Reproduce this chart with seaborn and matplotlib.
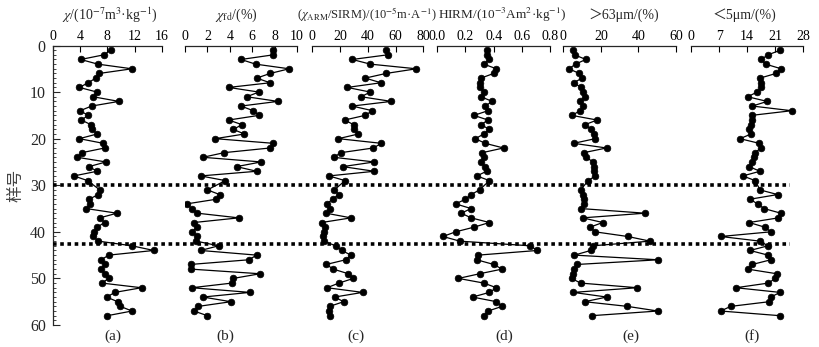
import matplotlib
matplotlib.use("Agg")
import matplotlib.pyplot as plt
import matplotlib.transforms as mtransforms
from matplotlib.lines import Line2D
from matplotlib.ticker import MultipleLocator
import seaborn as sns

# sample numbers (sample 30 not measured)
sample = list(range(1, 30)) + list(range(31, 59))

chi = [8.5, 7.5, 4.1, 6.6, 11.6, 6.8, 6.3, 5.2, 3.9, 6.5, 5.9, 9.7, 5.7, 4.0, 5.2,
       4.2, 5.6, 5.8, 6.5, 3.9, 7.4, 7.6, 4.3, 3.6, 7.8, 5.3, 6.5, 3.1, 5.1,
       6.9, 6.7, 5.3, 5.5, 4.9, 9.4, 6.9, 7.6, 6.5, 6.1, 5.9, 6.7,
       11.6, 14.8, 8.2, 7.1, 7.7, 7.0, 7.7, 8.2, 7.2, 13.0, 9.1, 7.9, 9.5, 9.9, 11.6, 8.0]

chi_fd = [7.9, 7.9, 5.0, 6.3, 9.3, 7.6, 6.4, 7.6, 3.9, 6.6, 5.5, 8.3, 5.0, 6.1, 6.6,
          3.9, 5.1, 4.3, 5.3, 2.7, 7.9, 7.6, 3.5, 1.6, 6.8, 4.6, 6.4, 1.4, 3.6,
          2.0, 3.1, 2.8, 0.15, 0.6, 1.1, 4.8, 0.8, 1.1, 0.6, 1.1, 1.0,
          3.0, 1.4, 6.4, 5.7, 0.5, 0.5, 6.7, 4.3, 4.2, 0.6, 5.8, 1.6, 4.1, 1.2, 0.8, 2.0]

arm_sirm = [52.9, 54.3, 28.8, 41.8, 75.0, 53.1, 38.2, 49.5, 25.2, 41.8, 35.1, 57.0, 28.8, 43.3, 38.0,
            23.3, 29.8, 30.0, 33.2, 18.8, 49.8, 44.0, 20.7, 15.4, 44.7, 21.9, 44.7, 12.0, 23.6,
            15.9, 19.0, 14.7, 10.3, 12.5, 9.9, 27.9, 6.7, 9.4, 8.7, 7.7, 8.4,
            16.8, 21.2, 27.9, 24.0, 10.1, 15.1, 26.0, 29.6, 19.2, 10.6, 36.3, 16.1, 22.6, 12.5, 12.3, 12.5]

hirm = [0.35, 0.35, 0.37, 0.33, 0.42, 0.40, 0.31, 0.30, 0.30, 0.33, 0.31, 0.39, 0.34, 0.36, 0.26,
        0.36, 0.31, 0.37, 0.33, 0.27, 0.34, 0.47, 0.32, 0.33, 0.31, 0.34, 0.35, 0.28, 0.37,
        0.30, 0.24, 0.20, 0.13, 0.24, 0.17, 0.24, 0.37, 0.26, 0.13, 0.04, 0.16,
        0.66, 0.71, 0.29, 0.28, 0.40, 0.46, 0.30, 0.15, 0.33, 0.42, 0.37, 0.25, 0.42, 0.46, 0.36, 0.33]

coarse = [5.2, 6.0, 12.0, 6.5, 3.0, 8.5, 10.0, 5.5, 9.5, 10.5, 11.5, 9.0, 10.5, 9.0, 4.5,
          18.0, 11.5, 15.0, 16.5, 17.0, 5.5, 23.0, 11.0, 12.0, 16.0, 16.5, 16.5, 17.0, 13.3,
          9.2, 10.3, 11.2, 11.2, 9.2, 43.5, 10.3, 21.0, 14.2, 16.9, 34.3, 46.2,
          15.6, 14.6, 5.9, 50.6, 7.5, 5.9, 5.3, 4.4, 9.2, 39.4, 5.3, 23.1, 11.4, 34.1, 50.3, 15.1]

fine = [22.3, 19.2, 17.5, 18.6, 22.5, 21.2, 17.2, 17.4, 17.5, 16.5, 14.1, 19.0, 15.3, 25.1, 15.1,
        15.3, 15.0, 14.5, 15.0, 12.2, 17.0, 17.4, 16.0, 15.7, 15.1, 14.5, 17.2, 12.9, 16.0,
        17.2, 21.6, 14.7, 16.6, 18.2, 22.4, 21.8, 14.5, 18.4, 19.9, 7.4, 17.2,
        19.2, 14.7, 19.2, 19.9, 15.3, 14.1, 21.4, 21.0, 19.3, 11.2, 22.2, 19.9, 19.5, 9.9, 7.4, 22.2]

titles = [r"$\chi$/(10$^{-7}$m$^{3}$·kg$^{-1}$)",
          r"$\chi_{\rm fd}$/(%)",
          r"($\chi_{\rm ARM}$/SIRM)/(10$^{-5}$m·A$^{-1}$)",
          r"HIRM/(10$^{-3}$Am$^{2}$·kg$^{-1}$)",
          "＞63μm/(%)",
          "＜5μm/(%)"]
panel_tags = ["(a)", "(b)", "(c)", "(d)", "(e)", "(f)"]
xticks = [[0, 4, 8, 12, 16],
          [0, 2, 4, 6, 8, 10],
          [0, 20, 40, 60, 80],
          [0.0, 0.2, 0.4, 0.6, 0.8],
          [0, 20, 40, 60],
          [0, 7, 14, 21, 28]]
xtick_labels = [[str(t) for t in xticks[0]],
                [str(t) for t in xticks[1]],
                [str(t) for t in xticks[2]],
                ["%.1f" % t for t in xticks[3]],
                [str(t) for t in xticks[4]],
                [str(t) for t in xticks[5]]]
boundaries = [30, 42.7]
series = [chi, chi_fd, arm_sirm, hirm, coarse, fine]

sns.set_style("ticks")
plt.rcParams["font.family"] = ["Liberation Serif", "Noto Sans CJK SC", "DejaVu Sans"]
plt.rcParams["mathtext.fontset"] = "stix"

W, H = 819, 347
fig = plt.figure(figsize=(W / 100, H / 100), dpi=100)

# panel placement in pixels: (left, width)
px_boxes = [(52.7, 109.3), (185, 112), (312.3, 111), (437.3, 112.7), (563.3, 112.7), (691, 112.3)]
top_px, bot_px = 45.5, 325
title_x = [110, 236, 367, 502, 624, 744]
title_size = [10, 10, 9, 9.5, 10, 10]
tag_x = [113, 225, 356, 504, 631, 752]

axes = []
for i, (l, w) in enumerate(px_boxes):
    ax = fig.add_axes([l / W, 1 - bot_px / H, w / W, (bot_px - top_px) / H])
    axes.append(ax)
    sns.lineplot(x=series[i], y=sample, ax=ax, sort=False, orient="y", estimator=None,
                 color="black", marker="o", markersize=4.8, markeredgecolor="black",
                 markeredgewidth=0.5, linewidth=0.9)
    ax.set_xlim(xticks[i][0], xticks[i][-1])
    ax.set_ylim(60, 0)
    ax.xaxis.tick_top()
    ax.set_xticks(xticks[i])
    ax.set_xticklabels(xtick_labels[i])
    ax.tick_params(axis="x", direction="in", length=4, width=0.8, pad=2,
                   labelsize=10, colors="black")
    ax.set_xlabel("")
    ax.set_ylabel("")
    for s in ["right", "bottom", "left"]:
        ax.spines[s].set_visible(False)
    ax.spines["top"].set_linewidth(0.9)
    fig.text(title_x[i] / W, 1 - 15 / H, titles[i], ha="center", va="center",
             fontsize=title_size[i])
    fig.text(tag_x[i] / W, 1 - 336 / H, panel_tags[i], ha="center", va="center", fontsize=11)
    if i == 0:
        ax.spines["left"].set_visible(True)
        ax.spines["left"].set_linewidth(0.9)
        ax.yaxis.set_major_locator(MultipleLocator(10))
        ax.yaxis.set_minor_locator(MultipleLocator(1))
        ax.tick_params(axis="y", which="major", direction="in", length=5, width=0.8,
                       pad=5, labelsize=11.5)
        ax.tick_params(axis="y", which="minor", direction="in", length=2.5, width=0.6)
    else:
        ax.set_yticks([])

# dotted unit boundaries running across all panels
trans = mtransforms.blended_transform_factory(fig.transFigure, axes[0].transData)
for b in boundaries:
    fig.add_artist(Line2D([53 / W, 790 / W], [b, b], transform=trans, color="black",
                          linestyle=(0, (1, 1)), linewidth=2.6))

fig.text(16 / W, 1 - 185 / H, "样号", rotation=90, ha="center", va="center",
         fontsize=12, color="#444444")

fig.savefig("out.png", dpi=100)
